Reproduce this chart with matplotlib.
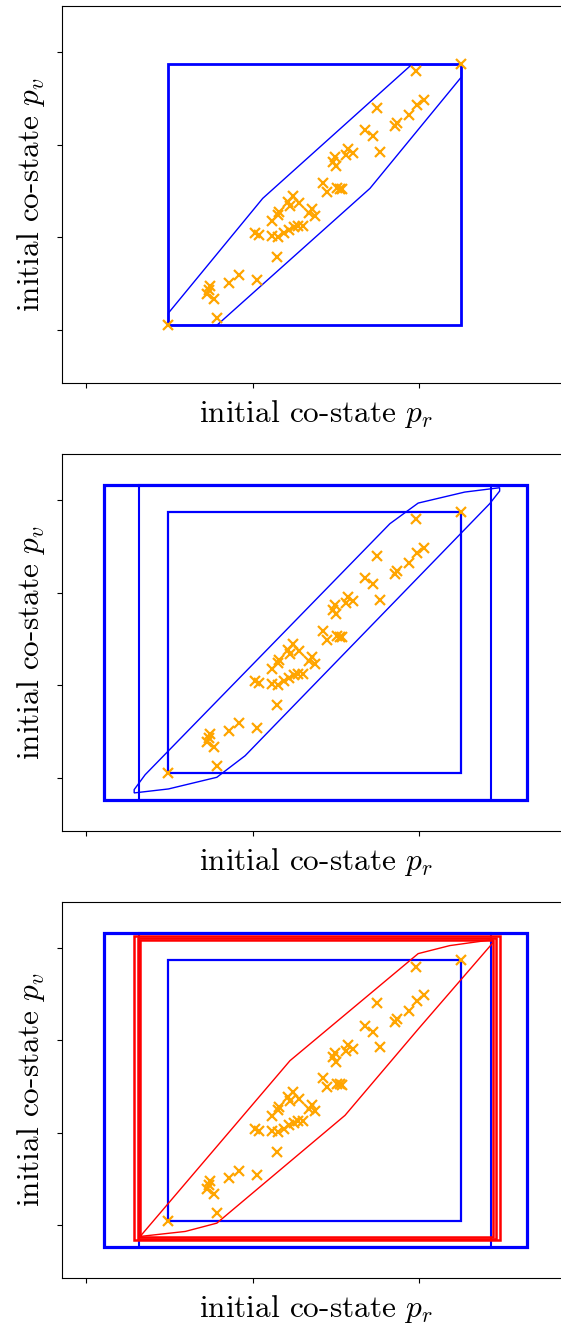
import matplotlib
matplotlib.use("Agg")
import matplotlib.pyplot as plt
from matplotlib.patches import Rectangle, Polygon

plt.rcParams['font.family'] = 'serif'
plt.rcParams['font.serif'] = ['cmr10', 'DejaVu Serif']
plt.rcParams['mathtext.fontset'] = 'cm'
plt.rcParams['axes.unicode_minus'] = False

# sampled initial co-states (same in every panel)
pr = [0.494, 2.256, 1.982, 1.746, 2.030, 1.990, 1.942, 1.870, 1.856, 1.676,
      1.722, 1.766, 1.575, 1.602, 1.562, 1.496, 1.482, 1.502, 1.425, 1.449,
      1.509, 1.536, 1.523, 1.245, 1.215, 1.225, 1.281, 1.356, 1.341, 1.375,
      1.161, 1.155, 1.115, 1.015, 1.039, 1.114, 1.153, 1.192, 1.219, 1.249,
      1.273, 1.303, 1.145, 1.029, 0.919, 0.861, 0.745, 0.735, 0.725, 0.769,
      0.785]
pv = [0.046, 2.869, 2.797, 2.402, 2.489, 2.427, 2.319, 2.236, 2.201, 2.157,
      2.093, 1.923, 1.949, 1.906, 1.888, 1.863, 1.815, 1.769, 1.589, 1.492,
      1.529, 1.521, 1.526, 1.445, 1.384, 1.338, 1.367, 1.302, 1.259, 1.230,
      1.276, 1.241, 1.176, 1.041, 1.019, 1.014, 1.003, 1.041, 1.079, 1.106,
      1.122, 1.122, 0.791, 0.539, 0.586, 0.510, 0.475, 0.431, 0.388, 0.334,
      0.126]

# boxes: (x0, x1, y0, y1)
box_inner = (0.494, 2.256, 0.046, 2.869)
box_outer = (0.108, 2.649, -0.237, 3.161)
box_mid = (0.318, 2.432, -0.237, 3.161)
red_boxes = [(0.288, 2.486, -0.169, 3.128),
             (0.308, 2.466, -0.151, 3.110),
             (0.324, 2.446, -0.133, 3.093)]

# polygons (vertices)
poly1_x = [0.494, 0.494, 1.061, 1.956, 2.256, 2.256, 1.706, 0.785]
poly1_y = [0.046, 0.180, 1.420, 2.866, 2.866, 2.733, 1.528, 0.047]
poly2_x = [0.288, 0.288, 0.354, 1.826, 1.996, 2.276, 2.486, 2.486, 2.426, 0.955, 0.785, 0.494]
poly2_y = [-0.165, -0.129, 0.032, 2.747, 2.970, 3.089, 3.136, 3.100, 2.963, 0.237, 0.004, -0.122]
poly3_x = [0.324, 1.225, 1.996, 2.186, 2.446, 2.446, 1.996, 1.556, 0.785, 0.595]
poly3_y = [-0.126, 1.780, 2.941, 3.028, 3.093, 3.060, 2.122, 1.187, 0.018, -0.072]

xticks = [0, 1, 2]
yticks = [0, 1, 2, 3]

W, H = 561, 1330
fig = plt.figure(figsize=(W / 100, H / 100), dpi=100)

ax_px = [(6, 383), (454, 831), (902, 1278)]
left_px, right_px = 62, 569

def add_box(ax, b, color, lw):
    x0, x1, y0, y1 = b
    ax.add_patch(Rectangle((x0, y0), x1 - x0, y1 - y0, fill=False,
                           edgecolor=color, linewidth=lw))

def add_poly(ax, xs, ys, color, lw):
    ax.add_patch(Polygon(list(zip(xs, ys)), closed=True, fill=False,
                         edgecolor=color, linewidth=lw))

axes = []
for top, bot in ax_px:
    ax = fig.add_axes([left_px / W, 1 - bot / H, (right_px - left_px) / W, (bot - top) / H])
    axes.append(ax)

# panel 1
ax = axes[0]
add_box(ax, box_inner, 'b', 2.0)
add_poly(ax, poly1_x, poly1_y, 'b', 1.0)

# panel 2
ax = axes[1]
add_box(ax, box_outer, 'b', 2.3)
add_box(ax, box_mid, 'b', 1.5)
add_box(ax, box_inner, 'b', 1.6)
add_poly(ax, poly2_x, poly2_y, 'b', 1.0)

# panel 3
ax = axes[2]
add_box(ax, box_outer, 'b', 2.3)
add_box(ax, box_mid, 'b', 1.5)
add_box(ax, box_inner, 'b', 1.6)
for rb in red_boxes:
    add_box(ax, rb, 'r', 1.8)
add_poly(ax, poly3_x, poly3_y, 'r', 1.0)

x0, x1, y0, y1 = box_outer
mx = 0.1 * (x1 - x0)
my = 0.1 * (y1 - y0)
for ax in axes:
    ax.plot(pr, pv, 'x', color='orange', markersize=7.5, markeredgewidth=1.6, zorder=5)
    ax.set_xlim(x0 - mx, x1 + mx)
    ax.set_ylim(y0 - my, y1 + my)
    ax.set_xticks(xticks)
    ax.set_yticks(yticks)
    ax.set_xticklabels([])
    ax.set_yticklabels([])
    ax.set_xlabel(r'initial co-state $p_r$', fontsize=22.5)
    ax.set_ylabel(r'initial co-state $p_v$', fontsize=22.5)

fig.savefig('out.png', dpi=100)
